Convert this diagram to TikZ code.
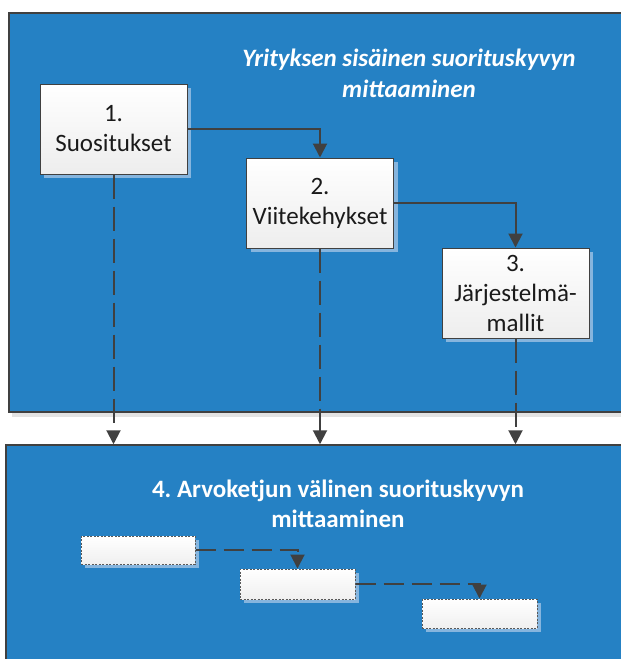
\documentclass[tikz,border=0pt]{standalone}
\usepackage{fontspec}
\setmainfont{Carlito}
\frenchspacing
\usetikzlibrary{arrows.meta,shadows}
\definecolor{panelblue}{HTML}{2581C4}
\definecolor{edgegray}{HTML}{404040}
\definecolor{shadowblue}{HTML}{86B5DE}
\definecolor{textdark}{HTML}{1A1A1A}
\tikzset{
  panel/.style={draw=edgegray, line width=1.5pt, fill=panelblue, inner sep=0pt},
  stepbox/.style={draw=edgegray, line width=1pt, top color=white, bottom color=gray!14,
    minimum width=147pt, minimum height=90pt, inner sep=0pt, align=center,
    text=textdark, font=\fontsize{25}{30}\selectfont,
    drop shadow={shadow xshift=4pt, shadow yshift=-4pt, fill=shadowblue, opacity=1}},
  slot/.style={draw=gray!70!black, dashed, dash pattern=on 2pt off 1.5pt, line width=1pt,
    top color=white, bottom color=gray!12, inner sep=0pt,
    drop shadow={shadow xshift=4pt, shadow yshift=-4pt, fill=shadowblue, opacity=1}},
  flow/.style={draw=edgegray, line width=2pt, -{Triangle[width=14pt,length=14pt]}},
  dflow/.style={flow, dash pattern=on 24pt off 8pt},
  sflow/.style={flow, dash pattern=on 20pt off 8pt},
  heading/.style={text=white, align=center, font=\bfseries\fontsize{25}{30.5}\selectfont}
}
\begin{document}
\begin{tikzpicture}[x=1pt,y=-1pt]
\useasboundingbox (0,0) rectangle (621,659);
\fill[white] (0,0) rectangle (621,659);

% upper panel with a soft grey shadow beneath it
\fill[gray!22] (12,412) rectangle (625,417);
\node[panel, minimum width=616pt, minimum height=399pt] (upper) at (317,212.5) {};
% lower panel
\node[panel, minimum width=620pt, minimum height=220pt] (lower) at (316,555) {};

\node[heading, font=\bfseries\itshape\fontsize{25}{31}\selectfont] (title1) at (409,73)
  {Yrityksen sisäinen suorituskyvyn\\mittaaminen};
\node[heading] (title2) at (338,504)
  {4. Arvoketjun välinen suorituskyvyn\\mittaaminen};

% the three steps
\node[stepbox] (s1) at (113.5,129) {1.\\Suositukset};
\node[stepbox] (s2) at (320,203) {2.\\Viitekehykset};
\node[stepbox] (s3) at (515.5,293) {3.\\Järjestelmä-\\mallit};

\draw[flow] (s1.east) -| (s2.north);
\draw[flow] (s2.east) -| (s3.north);

\draw[dflow] (s1.south) -- (s1.south |- lower.north);
\draw[dflow] (s2.south) -- (s2.south |- lower.north);
\draw[dflow] (s3.south) -- (s3.south |- lower.north);

% empty placeholders in the lower panel
\node[slot, minimum width=114pt, minimum height=28pt] (p1) at (138,550) {};
\node[slot, minimum width=115pt, minimum height=30pt] (p2) at (297.5,584) {};
\node[slot, minimum width=115pt, minimum height=29pt] (p3) at (479.5,613.5) {};

\draw[sflow] (p1.east) -| (p2.north);
\draw[sflow] (p2.east) -| (p3.north);
\end{tikzpicture}
\end{document}
